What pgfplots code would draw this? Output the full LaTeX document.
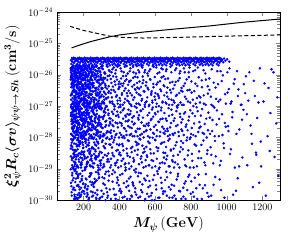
\documentclass[border=0pt]{standalone}
\usepackage{pgfplots}
\pgfplotsset{compat=1.18}
\usepackage{bm}
\begin{document}
\begin{tikzpicture}
\begin{axis}[
  scale only axis, width=223.3pt, height=188pt,
  xmin=50, xmax=1300, ymin=1e-30, ymax=1e-24, ymode=log,
  xtick={200,400,600,800,1000,1200},
  /pgf/number format/1000 sep={},
  tick label style={font=\normalsize},
  label style={font=\Large},
  xlabel={$\bm{M_\psi}\,(\mathbf{GeV})$},
  ylabel={$\bm{\xi_\psi^2 R_c \langle\sigma v\rangle_{\psi\psi\to Sh}}\,(\mathbf{cm^3/s})$},
  every axis plot/.append style={line width=1pt},
  pts/.style={only marks, mark=*, mark size=1.05pt, blue, line width=0.4pt},
]
\addplot[pts] coordinates {
(130,2.9e-26)(132,2.2e-26)(135,3.4e-26)(137,2.6e-26)(140,3.1e-26)(142,2.0e-26)(145,3.5e-26)(147,2.4e-26)(150,3.2e-26)(152,2.7e-26)(155,3.3e-26)(157,2.8e-26)(160,3.0e-26)(162,2.9e-26)(165,2.2e-26)(167,3.4e-26)(170,2.6e-26)(172,3.1e-26)(175,2.0e-26)(177,3.5e-26)(180,2.4e-26)(182,3.2e-26)(185,2.7e-26)(187,3.3e-26)(190,2.8e-26)(192,3.0e-26)
(195,2.5e-26)(197,3.3e-26)(200,2.1e-26)(202,3.0e-26)(205,2.7e-26)(207,3.5e-26)(210,2.3e-26)(212,3.1e-26)(215,2.8e-26)(217,2.0e-26)(220,3.4e-26)(222,2.6e-26)(225,3.2e-26)(227,2.5e-26)(230,3.3e-26)(232,2.1e-26)(235,3.0e-26)(237,2.7e-26)(240,3.5e-26)(242,2.3e-26)(245,3.1e-26)(247,2.8e-26)(250,2.0e-26)(252,3.4e-26)(255,2.6e-26)(257,3.2e-26)
(260,2.9e-26)(262,2.2e-26)(265,3.4e-26)(267,2.6e-26)(270,3.1e-26)(272,2.0e-26)(275,3.5e-26)(277,2.4e-26)(280,3.2e-26)(282,2.7e-26)(285,3.3e-26)(287,2.8e-26)(290,3.0e-26)(292,2.9e-26)(295,2.2e-26)(297,3.4e-26)(300,2.6e-26)(302,3.1e-26)(305,2.0e-26)(307,3.5e-26)(310,2.4e-26)(312,3.2e-26)(315,2.7e-26)(317,3.3e-26)(320,2.8e-26)(322,3.0e-26)
(325,2.5e-26)(327,3.3e-26)(330,2.1e-26)(332,3.0e-26)(335,2.7e-26)(337,3.5e-26)(340,2.3e-26)(342,3.1e-26)(345,2.8e-26)(347,2.0e-26)(350,3.4e-26)(352,2.6e-26)(355,3.2e-26)(357,2.5e-26)(360,3.3e-26)(362,2.1e-26)(365,3.0e-26)(367,2.7e-26)(370,3.5e-26)(372,2.3e-26)(375,3.1e-26)(377,2.8e-26)(380,2.0e-26)(382,3.4e-26)(385,2.6e-26)(387,3.2e-26)
(390,2.9e-26)(392,2.2e-26)(395,3.4e-26)(397,2.6e-26)(400,3.1e-26)(402,2.0e-26)(405,3.5e-26)(407,2.4e-26)(410,3.2e-26)(412,2.7e-26)(415,3.3e-26)(417,2.8e-26)(420,3.0e-26)(422,2.9e-26)(425,2.2e-26)(427,3.4e-26)(430,2.6e-26)(432,3.1e-26)(435,2.0e-26)(437,3.5e-26)(440,2.4e-26)(442,3.2e-26)(445,2.7e-26)(447,3.3e-26)(450,2.8e-26)(452,3.0e-26)
(455,2.5e-26)(457,3.3e-26)(460,2.1e-26)(462,3.0e-26)(465,2.7e-26)(467,3.5e-26)(470,2.3e-26)(472,3.1e-26)(475,2.8e-26)(477,2.0e-26)(480,3.4e-26)(482,2.6e-26)(485,3.2e-26)(487,2.5e-26)(490,3.3e-26)(492,2.1e-26)(495,3.0e-26)(497,2.7e-26)(500,3.5e-26)(502,2.3e-26)(505,3.1e-26)(507,2.8e-26)(510,2.0e-26)(512,3.4e-26)(515,2.6e-26)(517,3.2e-26)
(520,2.9e-26)(522,2.2e-26)(525,3.4e-26)(527,2.6e-26)(530,3.1e-26)(532,2.0e-26)(535,3.5e-26)(537,2.4e-26)(540,3.2e-26)(542,2.7e-26)(545,3.3e-26)(547,2.8e-26)(550,3.0e-26)(552,2.9e-26)(555,2.2e-26)(557,3.4e-26)(560,2.6e-26)(562,3.1e-26)(565,2.0e-26)(567,3.5e-26)(570,2.4e-26)(572,3.2e-26)(575,2.7e-26)(577,3.3e-26)(580,2.8e-26)(582,3.0e-26)
(585,2.5e-26)(587,3.3e-26)(590,2.1e-26)(592,3.0e-26)(595,2.7e-26)(597,3.5e-26)(600,2.3e-26)(602,3.1e-26)(605,2.8e-26)(607,2.0e-26)(610,3.4e-26)(612,2.6e-26)(615,3.2e-26)(617,2.5e-26)(620,3.3e-26)(622,2.1e-26)(625,3.0e-26)(627,2.7e-26)(630,3.5e-26)(632,2.3e-26)(635,3.1e-26)(637,2.8e-26)(640,2.0e-26)(642,3.4e-26)(645,2.6e-26)(647,3.2e-26)
(650,2.9e-26)(652,2.2e-26)(655,3.4e-26)(657,2.6e-26)(660,3.1e-26)(662,2.0e-26)(665,3.5e-26)(667,2.4e-26)(670,3.2e-26)(672,2.7e-26)(675,3.3e-26)(677,2.8e-26)(680,3.0e-26)(682,2.9e-26)(685,2.2e-26)(687,3.4e-26)(690,2.6e-26)(692,3.1e-26)(695,2.0e-26)(697,3.5e-26)(700,2.4e-26)(702,3.2e-26)(705,2.7e-26)(707,3.3e-26)(710,2.8e-26)(712,3.0e-26)
(715,2.5e-26)(717,3.3e-26)(720,2.1e-26)(722,3.0e-26)(725,2.7e-26)(727,3.5e-26)(730,2.3e-26)(732,3.1e-26)(735,2.8e-26)(737,2.0e-26)(740,3.4e-26)(742,2.6e-26)(745,3.2e-26)(747,2.5e-26)(750,3.3e-26)(752,2.1e-26)(755,3.0e-26)(757,2.7e-26)(760,3.5e-26)(762,2.3e-26)(765,3.1e-26)(767,2.8e-26)(770,2.0e-26)(772,3.4e-26)(775,2.6e-26)(777,3.2e-26)
(780,2.9e-26)(782,2.2e-26)(785,3.4e-26)(787,2.6e-26)(790,3.1e-26)(792,2.0e-26)(795,3.5e-26)(797,2.4e-26)(800,3.2e-26)(802,2.7e-26)(805,3.3e-26)(807,2.8e-26)(810,3.0e-26)(812,2.9e-26)(815,2.2e-26)(817,3.4e-26)(820,2.6e-26)(822,3.1e-26)(825,2.0e-26)(827,3.5e-26)(830,2.4e-26)(832,3.2e-26)(835,2.7e-26)(837,3.3e-26)(840,2.8e-26)(842,3.0e-26)
(845,2.5e-26)(847,3.3e-26)(850,2.1e-26)(852,3.0e-26)(855,2.7e-26)(857,3.5e-26)(860,2.3e-26)(862,3.1e-26)(865,2.8e-26)(867,2.0e-26)(870,3.4e-26)(872,2.6e-26)(875,3.2e-26)(877,2.5e-26)(880,3.3e-26)(882,2.1e-26)(885,3.0e-26)(887,2.7e-26)(890,3.5e-26)(892,2.3e-26)(895,3.1e-26)(897,2.8e-26)(900,2.0e-26)(902,3.4e-26)(905,2.6e-26)(907,3.2e-26)
(910,2.9e-26)(912,2.2e-26)(915,3.4e-26)(917,2.6e-26)(920,3.1e-26)(922,2.0e-26)(925,3.5e-26)(927,2.4e-26)(930,3.2e-26)(932,2.7e-26)(935,3.3e-26)(937,2.8e-26)(940,3.0e-26)(942,2.9e-26)(945,2.2e-26)(947,3.4e-26)(950,2.6e-26)(952,3.1e-26)(955,2.0e-26)(957,3.5e-26)(960,2.4e-26)(962,3.2e-26)(965,2.7e-26)(967,3.3e-26)(970,2.8e-26)(972,3.0e-26)
(976,3.0e-26)(981,2.5e-26)(986,3.3e-26)(993,2.8e-26)(1003,3.1e-26)(1015,2.6e-26)
(130,1.2e-26)(133,1.7e-26)(141,1.9e-26)(146,1.1e-26)(137,1.5e-26)(149,1.3e-26)
(129,8.3e-27)(132,5.1e-27)(135,2.6e-27)(138,9.4e-27)(140,1.4e-27)(143,3.8e-27)(145,6.7e-27)(147,2.1e-27)(131,1.1e-27)(134,7.2e-27)(136,4.4e-27)(139,1.8e-27)(142,3.1e-27)(144,5.9e-27)(148,8.8e-27)(150,1.3e-27)(133,2.4e-27)(146,4.9e-27)
(130,6.1e-28)(132,3.3e-28)(135,1.2e-28)(137,8.5e-28)(139,2.2e-28)(141,5.4e-28)(143,1.6e-28)(145,7.7e-28)(147,3.9e-28)(149,1.4e-28)(131,9.6e-28)(134,2.7e-28)(136,4.6e-28)(138,1.9e-28)(140,6.9e-28)(142,1.1e-28)(144,3.0e-28)(148,5.2e-28)
(129,2.5e-29)(133,6.8e-29)(136,1.3e-29)(140,4.1e-29)(143,8.9e-29)(146,1.7e-29)(149,3.4e-29)(131,5.6e-29)(138,1.1e-29)(145,2.9e-29)
(130,3.6e-30)(134,1.4e-30)(137,7.4e-30)(141,2.2e-30)(144,5.1e-30)(147,1.1e-30)(150,8.6e-30)(132,2.8e-30)
(152,1.3e-26)(157,1.8e-26)(163,1.1e-26)(168,1.6e-26)(174,1.9e-26)(179,1.2e-26)(185,1.5e-26)(190,1.7e-26)(196,1.1e-26)(154,1.4e-26)(160,2.0e-26)(171,1.2e-26)(177,1.6e-26)(183,1.9e-26)(188,1.3e-26)(198,1.5e-26)
(151,3.2e-27)(158,1.1e-27)(165,6.5e-27)(172,2.0e-27)(179,8.7e-27)(186,1.5e-27)(193,4.4e-27)(153,2.7e-27)(160,9.6e-27)(167,5.3e-27)(174,1.3e-27)(181,7.4e-27)(188,2.3e-27)(195,4.9e-27)(155,1.7e-27)(162,9.0e-27)(169,3.6e-27)(176,1.2e-27)(183,5.8e-27)(190,2.9e-27)(197,8.1e-27)(157,1.9e-27)(164,3.9e-27)(171,6.0e-27)(178,1.4e-27)(185,2.5e-27)(192,7.0e-27)(199,4.1e-27)(152,1.0e-27)(159,3.0e-27)(166,5.5e-27)(173,2.1e-27)(180,9.3e-27)(187,1.6e-27)(194,3.4e-27)(154,6.8e-27)(161,1.2e-27)(168,4.7e-27)(175,2.6e-27)(182,8.4e-27)(189,1.8e-27)(196,4.2e-27)(156,7.8e-27)(163,2.4e-27)(170,1.1e-27)(177,5.0e-27)(184,3.7e-27)(191,9.9e-27)(198,1.5e-27)(150,6.2e-27)
(151,5.3e-28)(162,9.6e-28)(173,2.7e-28)(184,4.4e-28)(195,1.5e-28)(156,8.7e-28)(167,2.0e-28)(178,6.5e-28)(189,1.1e-28)(153,3.2e-28)(164,2.9e-28)(175,5.8e-28)(186,1.2e-28)(197,3.6e-28)(158,9.0e-28)(169,1.7e-28)(180,4.9e-28)(191,2.3e-28)(152,7.4e-28)(163,1.3e-28)(174,3.0e-28)(185,1.0e-28)(196,4.1e-28)(157,7.0e-28)(168,2.5e-28)(179,1.4e-28)(190,6.0e-28)(154,3.9e-28)(165,1.9e-28)(176,8.1e-28)(187,8.4e-28)(198,2.6e-28)(159,4.7e-28)(170,1.2e-28)(181,6.8e-28)(192,3.4e-28)(155,1.6e-28)(166,9.3e-28)(177,2.1e-28)(188,5.5e-28)(199,6.2e-28)(160,1.5e-28)(171,9.9e-28)(182,3.7e-28)(193,5.0e-28)
(152,4.0e-29)(165,1.2e-29)(178,7.5e-29)(191,2.2e-29)(154,1.6e-29)(167,5.6e-29)(180,3.1e-29)(193,9.1e-29)(156,1.0e-29)(169,2.6e-29)(182,6.3e-29)(195,1.9e-29)(158,3.8e-29)(171,8.2e-29)(184,1.4e-29)(197,4.6e-29)(160,2.4e-29)(173,7.0e-29)(186,1.1e-29)(199,3.3e-29)(162,5.2e-29)(175,1.7e-29)(188,9.5e-29)(151,2.8e-29)(164,1.3e-29)(177,6.0e-29)(190,3.6e-29)(157,2.0e-29)
(153,2.1e-30)(168,5.5e-30)(183,1.3e-30)(198,3.4e-30)(161,8.0e-30)(176,1.7e-30)(191,4.3e-30)(156,1.1e-30)(171,6.6e-30)(186,2.5e-30)(151,9.2e-30)(166,1.5e-30)(181,3.9e-30)(196,2.0e-30)(159,7.1e-30)(174,1.2e-30)(189,4.8e-30)(163,2.9e-30)(178,1.4e-30)(193,5.9e-30)(170,3.1e-30)
(203,1.4e-26)(208,1.9e-26)(214,1.1e-26)(219,1.6e-26)(225,1.3e-26)(231,1.8e-26)(236,1.2e-26)(241,1.5e-26)(247,1.9e-26)(211,1.7e-26)(228,1.0e-26)(244,1.3e-26)
(201,2.4e-27)(208,7.7e-27)(215,1.3e-27)(222,4.5e-27)(229,1.0e-27)(236,3.3e-27)(243,8.9e-27)(203,1.8e-27)(210,5.6e-27)(217,2.8e-27)(224,1.2e-27)(231,6.1e-27)(238,3.7e-27)(245,1.6e-27)(205,9.4e-27)(212,2.2e-27)(219,4.9e-27)(226,1.1e-27)(233,7.0e-27)(240,3.0e-27)(247,5.3e-27)(207,1.5e-27)(214,2.6e-27)(221,8.2e-27)(228,1.9e-27)(235,4.1e-27)(242,1.4e-27)(249,6.6e-27)(202,2.0e-27)(209,3.5e-27)(216,9.8e-27)(223,1.3e-27)(230,5.0e-27)(237,2.3e-27)(244,7.3e-27)(204,1.7e-27)(211,4.3e-27)(218,1.1e-27)
(201,1.6e-28)(212,4.8e-28)(223,2.3e-28)(234,8.6e-28)(245,1.1e-28)(206,3.4e-28)(217,6.3e-28)(228,1.9e-28)(239,2.8e-28)(204,5.1e-28)(215,1.3e-28)(226,9.7e-28)(237,3.9e-28)(248,2.1e-28)(209,1.5e-28)(220,7.2e-28)(231,4.4e-28)(242,1.2e-28)(203,2.5e-28)(214,6.0e-28)(225,3.1e-28)(236,1.8e-28)(247,8.3e-28)(208,1.4e-28)(219,5.4e-28)(230,2.0e-28)(241,3.6e-28)(202,1.0e-28)(213,7.6e-28)(224,2.7e-28)(235,4.6e-28)(246,1.7e-28)(207,9.2e-28)(250,3.3e-28)
(204,3.5e-29)(217,1.2e-29)(230,6.8e-29)(243,2.1e-29)(206,9.0e-29)(219,1.5e-29)(232,4.3e-29)(245,2.7e-29)(208,1.1e-29)(221,5.8e-29)(234,3.0e-29)(247,1.8e-29)(210,7.5e-29)(223,2.4e-29)(236,1.3e-29)(249,4.9e-29)(212,8.4e-29)(225,1.6e-29)(238,3.7e-29)(215,2.2e-29)
(202,1.9e-30)(216,4.6e-30)(230,1.2e-30)(244,7.3e-30)(209,2.8e-30)(223,1.5e-30)(237,3.9e-30)(205,9.1e-30)(219,2.2e-30)(233,5.6e-30)(247,1.3e-30)(212,3.2e-30)(226,1.0e-30)(240,6.4e-30)(207,2.5e-30)(221,1.7e-30)
(253,1.2e-26)(259,1.7e-26)(266,1.4e-26)(272,1.9e-26)(279,1.1e-26)(285,1.6e-26)(292,1.3e-26)(298,1.8e-26)
(251,4.0e-27)(258,1.3e-27)(265,7.1e-27)(272,2.2e-27)(279,1.0e-27)(286,5.4e-27)(293,2.9e-27)(253,9.3e-27)(260,1.6e-27)(267,3.6e-27)(274,6.2e-27)(281,1.2e-27)(288,2.5e-27)(295,8.0e-27)(255,4.5e-27)(262,1.8e-27)(269,3.2e-27)(276,1.1e-27)(283,6.9e-27)(290,2.0e-27)(297,5.0e-27)(257,1.4e-27)(264,3.8e-27)(271,9.6e-27)(278,2.7e-27)(285,1.5e-27)(292,4.7e-27)(299,7.5e-27)
(251,2.6e-28)(262,8.5e-28)(273,1.4e-28)(284,4.2e-28)(295,1.1e-28)(256,6.0e-28)(267,3.0e-28)(278,1.7e-28)(289,9.9e-28)(254,2.1e-28)(265,5.1e-28)(276,1.3e-28)(287,3.5e-28)(298,7.8e-28)(259,1.9e-28)(270,4.6e-28)(281,2.4e-28)(292,1.0e-28)(253,6.5e-28)(264,3.2e-28)(275,1.6e-28)(286,8.9e-28)(297,2.2e-28)(258,5.5e-28)(269,1.2e-28)(280,3.9e-28)
(252,1.5e-29)(265,5.9e-29)(278,2.4e-29)(291,9.4e-29)(254,1.1e-29)(267,3.6e-29)(280,7.2e-29)(293,1.8e-29)(256,4.4e-29)(269,2.0e-29)(282,6.4e-29)(295,1.3e-29)(258,3.0e-29)(271,8.7e-29)(284,2.6e-29)
(255,3.3e-30)(270,1.2e-30)(285,6.7e-30)(300,2.0e-30)(262,4.8e-30)(277,1.5e-30)(292,9.5e-30)(257,2.7e-30)(272,1.1e-30)(287,5.4e-30)(251,1.8e-30)(266,3.9e-30)(281,7.6e-30)
(308,1.5e-26)(321,1.1e-26)(334,1.8e-26)(346,1.3e-26)
(302,2.3e-27)(309,6.8e-27)(315,1.2e-27)(322,4.0e-27)(328,1.7e-27)(335,9.1e-27)(341,3.0e-27)(347,1.4e-27)(305,5.5e-27)(312,2.0e-27)(318,7.6e-27)(325,1.0e-27)(331,3.6e-27)(338,2.7e-27)
(303,4.5e-28)(311,1.3e-28)(319,8.2e-28)(326,2.5e-28)(333,1.6e-28)(340,5.8e-28)(348,3.1e-28)(306,1.1e-28)(314,7.0e-28)(321,2.2e-28)(329,9.6e-28)(336,1.5e-28)(344,4.1e-28)(349,2.8e-28)
(301,3.3e-29)(313,1.4e-29)(324,6.3e-29)(337,2.0e-29)(345,8.8e-29)(307,1.1e-29)(318,4.7e-29)(330,2.6e-29)(342,1.7e-29)(350,5.9e-29)
(304,1.3e-30)(316,5.0e-30)(327,2.4e-30)(339,8.3e-30)(310,3.4e-30)(323,1.0e-30)(343,6.1e-30)(332,1.8e-30)
(356,1.2e-26)(369,1.7e-26)(381,1.4e-26)(394,1.9e-26)
(352,7.3e-27)(358,1.9e-27)(364,4.2e-27)(371,1.1e-27)(377,2.8e-27)(383,8.6e-27)(390,1.5e-27)(396,5.0e-27)(355,3.3e-27)(362,1.2e-27)(374,6.1e-27)(386,2.2e-27)(399,3.9e-27)
(351,1.4e-28)(359,6.6e-28)(367,2.3e-28)(375,1.0e-28)(382,4.9e-28)(389,2.8e-28)(397,9.2e-28)(354,1.7e-28)(363,3.5e-28)(372,7.9e-28)(380,1.2e-28)(393,5.3e-28)
(353,2.1e-29)(366,7.0e-29)(378,1.3e-29)(391,4.0e-29)(357,9.5e-29)(370,2.5e-29)(384,1.6e-29)(398,5.6e-29)(361,3.2e-29)
(360,6.8e-30)(373,1.5e-30)(387,3.6e-30)(400,2.0e-30)(365,9.0e-30)(379,1.1e-30)(392,4.4e-30)
(407,1.6e-26)(425,1.2e-26)(441,1.9e-26)
(402,1.8e-27)(409,5.2e-27)(415,2.6e-27)(421,9.0e-27)(428,1.3e-27)(434,3.7e-27)(440,7.1e-27)(446,2.1e-27)(405,1.1e-27)(418,4.4e-27)(431,6.3e-27)(444,1.5e-27)
(403,3.0e-28)(411,1.2e-28)(419,7.4e-28)(426,2.0e-28)(433,5.0e-28)(439,1.6e-28)(447,3.3e-28)(406,9.4e-28)(414,2.4e-28)(424,1.1e-28)(437,4.6e-28)
(401,6.0e-29)(413,1.8e-29)(423,3.9e-29)(435,1.1e-29)(448,8.1e-29)(408,2.7e-29)(420,5.3e-29)(430,1.4e-29)(443,3.1e-29)
(404,2.3e-30)(417,6.9e-30)(429,1.3e-30)(442,4.0e-30)(410,1.7e-30)(436,9.3e-30)(450,2.9e-30)
(458,1.3e-26)(476,1.8e-26)(493,1.1e-26)
(452,3.1e-27)(457,1.2e-27)(464,6.5e-27)(470,2.2e-27)(477,1.6e-27)(483,4.8e-27)(489,8.7e-27)(496,2.7e-27)(455,5.9e-27)(468,1.0e-27)(487,3.5e-27)
(451,7.7e-28)(459,2.1e-28)(466,1.3e-28)(473,4.3e-28)(480,2.6e-28)(486,9.8e-28)(494,1.5e-28)(461,5.6e-28)(471,3.2e-28)(484,1.1e-28)(499,6.4e-28)
(453,1.5e-29)(465,4.5e-29)(478,2.2e-29)(491,7.3e-29)(456,1.0e-29)(469,3.4e-29)(482,1.9e-29)(497,5.7e-29)
(454,4.9e-30)(467,1.4e-30)(479,2.9e-30)(492,7.8e-30)(460,1.1e-30)(474,3.7e-30)(488,1.8e-30)
(506,1.4e-26)(523,1.9e-26)(541,1.2e-26)
(502,8.3e-27)(508,2.4e-27)(515,1.1e-27)(521,4.1e-27)(527,1.7e-27)(534,6.7e-27)(540,2.9e-27)(546,1.3e-27)(511,3.6e-27)(530,5.4e-27)
(503,1.9e-28)(510,5.1e-28)(517,1.2e-28)(524,3.0e-28)(531,8.0e-28)(538,1.5e-28)(545,2.3e-28)(505,4.2e-28)(520,6.9e-28)(536,1.0e-28)
(501,2.8e-29)(513,9.1e-29)(526,1.6e-29)(539,4.4e-29)(548,1.2e-29)(507,6.2e-29)(519,2.1e-29)(533,3.3e-29)
(504,5.8e-30)(516,1.3e-30)(529,3.2e-30)(542,1.0e-30)(509,7.5e-30)(522,2.1e-30)(547,4.3e-30)
(557,1.1e-26)(573,1.5e-26)(592,1.8e-26)
(552,1.4e-27)(558,3.8e-27)(565,1.0e-27)(571,7.2e-27)(578,2.3e-27)(584,1.5e-27)(590,5.1e-27)(597,2.0e-27)(561,9.3e-27)(581,3.0e-27)
(553,2.7e-28)(560,1.1e-28)(567,6.1e-28)(574,1.8e-28)(580,3.9e-28)(587,9.0e-28)(594,1.3e-28)(563,2.4e-28)(589,4.6e-28)
(551,5.0e-29)(564,1.3e-29)(576,3.1e-29)(589,1.8e-29)(599,8.5e-29)(556,2.4e-29)(569,6.6e-29)(583,1.1e-29)
(555,1.6e-30)(568,4.1e-30)(582,1.0e-30)(595,6.3e-30)(562,2.6e-30)(577,1.4e-30)
(607,1.7e-26)(624,1.2e-26)(643,1.5e-26)
(602,2.6e-27)(609,1.2e-27)(615,5.7e-27)(622,1.8e-27)(629,3.4e-27)(636,8.2e-27)(642,1.4e-27)(648,4.6e-27)(619,2.1e-27)
(603,5.5e-28)(611,1.7e-28)(618,3.2e-28)(626,1.1e-28)(633,7.3e-28)(640,2.2e-28)(647,1.4e-28)(606,9.5e-28)(630,3.8e-28)
(601,1.2e-29)(614,3.7e-29)(627,1.5e-29)(639,6.8e-29)(650,2.3e-29)(608,4.9e-29)(621,1.0e-29)
(605,3.0e-30)(617,1.2e-30)(632,5.2e-30)(645,1.9e-30)(612,8.4e-30)(637,2.4e-30)
(661,1.3e-26)(686,1.8e-26)
(652,4.3e-27)(659,1.3e-27)(665,2.7e-27)(672,7.6e-27)(678,1.1e-27)(684,3.3e-27)(691,1.6e-27)(697,5.9e-27)(668,2.0e-27)
(653,1.3e-28)(660,4.0e-28)(668,1.9e-28)(675,8.6e-28)(682,1.2e-28)(689,2.9e-28)(696,5.3e-28)(671,1.6e-28)
(651,7.1e-29)(663,2.0e-29)(676,1.2e-29)(688,4.1e-29)(699,1.7e-29)(657,3.2e-29)(681,9.0e-29)
(655,1.9e-30)(667,5.4e-30)(680,1.2e-30)(693,3.1e-30)(662,8.1e-30)(687,2.2e-30)
(712,1.4e-26)(737,1.1e-26)
(703,1.5e-27)(709,4.7e-27)(716,2.1e-27)(722,1.0e-27)(729,6.5e-27)(735,2.6e-27)(742,1.3e-27)(748,3.8e-27)
(704,3.4e-28)(711,1.4e-28)(719,6.9e-28)(726,2.5e-28)(733,1.1e-28)(741,4.5e-28)(747,1.8e-28)
(702,2.6e-29)(714,5.6e-29)(727,1.4e-29)(739,3.5e-29)(706,1.1e-29)(745,7.7e-29)
(708,1.4e-30)(721,4.6e-30)(734,2.0e-30)(747,1.1e-30)(728,7.0e-30)
(761,1.6e-26)(788,1.2e-26)
(753,2.9e-27)(760,1.1e-27)(767,5.3e-27)(774,1.7e-27)(781,3.2e-27)(789,8.4e-27)(796,1.3e-27)
(752,1.6e-28)(762,5.8e-28)(771,2.2e-28)(779,1.0e-28)(787,3.5e-28)(797,7.4e-28)
(755,4.2e-29)(768,1.3e-29)(783,2.7e-29)(795,1.1e-29)(776,8.1e-29)
(757,2.5e-30)(770,1.1e-30)(785,5.6e-30)(799,1.6e-30)(764,3.4e-30)
(813,1.3e-26)(839,1.7e-26)
(803,6.1e-27)(811,1.6e-27)(819,3.0e-27)(827,1.2e-27)(836,4.4e-27)(845,2.1e-27)
(805,2.0e-28)(814,1.2e-28)(823,4.8e-28)(832,9.2e-28)(841,1.5e-28)(848,3.1e-28)
(808,1.8e-29)(821,6.0e-29)(834,1.2e-29)(846,3.6e-29)
(802,4.0e-30)(817,1.3e-30)(830,2.4e-30)(843,6.6e-30)
(871,1.4e-26)
(853,1.9e-27)(862,4.0e-27)(873,1.2e-27)(884,7.0e-27)(895,2.5e-27)
(856,5.0e-28)(866,1.4e-28)(877,2.7e-28)(889,1.0e-28)(898,6.2e-28)
(858,2.2e-29)(870,8.0e-29)(881,1.3e-29)(893,3.9e-29)
(861,1.1e-30)(879,3.0e-30)(892,1.7e-30)
(917,1.5e-26)
(904,3.3e-27)(915,1.1e-27)(928,5.6e-27)(941,1.7e-27)
(907,1.3e-28)(921,3.6e-28)(933,1.1e-28)(946,7.3e-28)
(910,4.9e-29)(925,1.5e-29)(939,2.5e-29)
(913,1.4e-30)(936,5.5e-30)
(966,1.3e-26)(954,1.4e-27)(972,6.3e-27)(991,2.4e-27)(958,3.9e-28)(977,1.2e-28)(995,2.2e-28)(962,1.3e-29)(985,4.6e-29)(969,2.1e-30)(988,1.2e-30)
(1016,1.6e-26)(1005,2.7e-27)(1022,1.2e-27)(1040,5.2e-27)(1010,1.6e-28)(1031,4.4e-28)(1046,1.1e-29)(1019,3.0e-29)(1036,1.5e-30)
(1058,1.3e-26)(1066,3.4e-27)(1083,1.1e-27)(1094,7.6e-28)(1071,1.8e-28)(1088,2.3e-29)(1062,5.0e-30)
(1108,8.9e-27)(1121,1.5e-27)(1134,2.4e-28)(1142,6.3e-29)(1115,1.3e-29)(1147,2.6e-30)
(1158,2.1e-27)(1171,4.2e-28)(1186,1.6e-26)(1193,1.2e-29)(1164,3.3e-29)
(1212,5.3e-27)(1229,1.1e-28)(1241,3.7e-29)(1219,1.4e-30)
(1262,1.2e-26)(1277,2.8e-28)(1289,6.0e-30)
};
\addplot[pts] coordinates {
(128,1.6e-26)(131,9.1e-27)(135,1.4e-26)(139,6.3e-27)(143,1.8e-26)(147,3.4e-27)(150,1.0e-26)(129,2.2e-27)(133,7.9e-27)(137,1.2e-27)(141,4.6e-27)(145,2.9e-27)(149,1.6e-27)(132,5.3e-28)(136,8.1e-28)(140,2.9e-28)(144,1.5e-28)(148,4.3e-28)(130,1.3e-28)(134,6.2e-28)(138,3.6e-28)(142,9.1e-28)(146,2.0e-28)(150,7.1e-28)(129,4.4e-29)(135,1.9e-29)(139,7.9e-29)(144,3.1e-29)(148,1.2e-29)(131,8.8e-29)(137,5.0e-29)(142,2.3e-29)(147,6.4e-29)(133,1.8e-30)(139,4.3e-30)(145,2.5e-30)(149,1.5e-30)(136,6.2e-30)(128,9.7e-30)(143,1.0e-29)
(153,1.6e-26)(159,1.2e-26)(164,1.9e-26)(170,1.4e-26)(175,1.1e-26)(181,1.7e-26)(186,1.3e-26)(192,1.8e-26)(197,1.0e-26)(167,1.5e-26)(178,2.0e-26)(194,1.4e-26)
(151,5.9e-27)(154,1.3e-27)(157,8.5e-27)(160,2.4e-27)(163,1.1e-27)(166,4.1e-27)(169,6.9e-27)(172,1.8e-27)(175,3.1e-27)(178,9.7e-27)(181,2.2e-27)(184,1.4e-27)(187,5.0e-27)(190,2.7e-27)(193,7.5e-27)(196,1.2e-27)(199,3.8e-27)(152,1.6e-27)(155,6.4e-27)(158,2.9e-27)(161,1.0e-27)(164,4.5e-27)(167,8.0e-27)(170,2.0e-27)(173,1.3e-27)(176,3.3e-27)(179,5.6e-27)(182,1.7e-27)(185,9.1e-27)(188,2.5e-27)(191,4.3e-27)(194,1.1e-27)(197,6.7e-27)(200,3.6e-27)
(150,2.3e-28)(153,7.1e-28)(156,1.2e-28)(159,4.8e-28)(162,1.7e-28)(165,3.2e-28)(168,9.4e-28)(171,1.0e-28)(174,5.7e-28)(177,2.6e-28)(180,1.4e-28)(183,8.3e-28)(186,3.9e-28)(189,1.9e-28)(192,6.1e-28)(195,1.1e-28)(198,2.8e-28)(151,4.4e-28)(155,1.5e-28)(159,7.7e-28)(163,2.1e-28)(167,3.5e-28)(171,1.2e-28)(175,6.6e-28)(179,9.8e-28)(183,1.8e-28)(187,4.0e-28)(191,2.4e-28)(195,5.2e-28)(199,1.3e-28)(157,3.0e-28)(161,8.9e-28)
(152,1.4e-29)(158,3.7e-29)(164,8.2e-29)(170,1.1e-29)(176,5.3e-29)(182,2.3e-29)(188,1.6e-29)(194,6.9e-29)(200,2.9e-29)(155,9.9e-29)(161,1.2e-29)(167,4.2e-29)(173,2.0e-29)(179,7.3e-29)(185,1.3e-29)(191,3.4e-29)(197,5.8e-29)(150,2.5e-29)
(154,3.8e-30)(162,1.2e-30)(170,6.1e-30)(178,2.2e-30)(186,1.5e-30)(194,8.6e-30)(158,4.9e-30)(166,1.1e-30)(174,2.7e-30)(182,7.0e-30)(190,1.8e-30)(198,3.3e-30)(151,1.3e-30)(169,5.2e-30)
(204,1.8e-26)(210,1.2e-26)(216,1.5e-26)(223,1.9e-26)(229,1.1e-26)(234,1.6e-26)(240,1.3e-26)(246,1.7e-26)(249,1.0e-26)
(201,3.4e-27)(205,1.2e-27)(209,6.9e-27)(213,2.1e-27)(217,1.5e-27)(221,8.8e-27)(225,4.0e-27)(229,1.1e-27)(233,2.5e-27)(237,5.6e-27)(241,1.7e-27)(245,9.2e-27)(249,3.0e-27)(203,1.3e-27)(207,7.4e-27)(211,2.7e-27)(215,4.6e-27)(219,1.0e-27)(223,6.2e-27)(227,1.9e-27)(231,3.6e-27)(235,1.4e-27)(239,8.1e-27)(243,2.3e-27)(247,5.1e-27)(202,1.6e-27)(226,3.9e-27)(238,1.2e-27)
(202,1.1e-28)(206,4.0e-28)(210,2.2e-28)(214,7.8e-28)(218,1.5e-28)(222,3.1e-28)(226,5.9e-28)(230,1.3e-28)(234,2.6e-28)(238,9.5e-28)(242,1.8e-28)(246,4.7e-28)(250,1.0e-28)(204,6.5e-28)(208,2.9e-28)(212,1.2e-28)(216,3.7e-28)(220,8.7e-28)(224,1.6e-28)(228,5.2e-28)(232,2.0e-28)(236,1.1e-28)(240,4.4e-28)(244,7.0e-28)(248,2.4e-28)(213,3.3e-28)
(203,2.7e-29)(209,1.0e-29)(215,5.1e-29)(221,1.6e-29)(227,8.3e-29)(233,3.2e-29)(239,1.2e-29)(245,4.5e-29)(206,2.1e-29)(212,6.7e-29)(218,1.4e-29)(224,3.8e-29)(230,9.6e-29)(236,1.9e-29)(242,2.5e-29)
(205,1.6e-30)(213,4.9e-30)(221,2.3e-30)(229,1.1e-30)(237,7.2e-30)(245,3.1e-30)(209,9.4e-30)(217,1.3e-30)(225,2.8e-30)(233,5.7e-30)(241,1.9e-30)(249,3.7e-30)
(254,1.5e-26)(263,1.1e-26)(271,1.8e-26)(280,1.3e-26)(289,1.6e-26)(296,1.0e-26)
(251,1.9e-27)(256,5.4e-27)(261,1.1e-27)(266,3.1e-27)(271,8.3e-27)(276,2.2e-27)(281,1.4e-27)(286,6.6e-27)(291,2.8e-27)(296,1.0e-27)(253,4.3e-27)(258,1.6e-27)(263,9.9e-27)(268,2.5e-27)(273,1.2e-27)(278,5.8e-27)(283,3.4e-27)(288,1.8e-27)(293,7.1e-27)(298,2.0e-27)(300,3.8e-27)
(252,6.7e-28)(257,1.3e-28)(262,3.6e-28)(267,1.8e-28)(272,9.0e-28)(277,2.4e-28)(282,1.1e-28)(287,4.9e-28)(292,2.9e-28)(297,1.5e-28)(254,7.6e-28)(259,1.0e-28)(264,4.1e-28)(269,2.1e-28)(274,5.6e-28)(279,1.4e-28)(284,3.0e-28)(289,8.4e-28)(294,1.2e-28)(299,2.6e-28)
(251,4.6e-29)(259,1.5e-29)(267,2.6e-29)(275,7.4e-29)(283,1.1e-29)(291,3.5e-29)(299,1.9e-29)(255,9.0e-29)(263,2.2e-29)(271,5.5e-29)(279,1.3e-29)(287,3.0e-29)
(253,1.4e-30)(261,3.6e-30)(269,7.9e-30)(277,2.1e-30)(285,5.0e-30)(293,1.2e-30)(257,2.7e-30)(265,1.7e-30)(273,4.3e-30)(281,9.0e-30)(289,1.1e-30)
(304,1.6e-26)(317,1.2e-26)(329,1.9e-26)(342,1.4e-26)
(301,1.2e-27)(306,3.7e-27)(311,8.0e-27)(316,1.6e-27)(320,5.1e-27)(324,2.4e-27)(329,1.0e-27)(333,6.8e-27)(337,1.9e-27)(341,4.3e-27)(345,9.5e-27)(348,1.3e-27)(314,2.9e-27)
(302,8.5e-28)(307,2.0e-28)(312,4.6e-28)(317,1.2e-28)(322,6.2e-28)(327,3.4e-28)(332,1.0e-28)(337,7.6e-28)(342,2.4e-28)(347,1.5e-28)(309,3.9e-28)(324,9.1e-28)(339,5.2e-28)
(303,7.1e-29)(309,2.3e-29)(315,1.2e-29)(320,4.5e-29)(326,9.3e-29)(332,1.7e-29)(338,3.1e-29)(344,6.0e-29)(349,1.1e-29)(312,5.3e-29)(335,2.0e-29)
(305,5.4e-30)(312,1.6e-30)(319,3.1e-30)(326,8.1e-30)(333,1.2e-30)(340,4.2e-30)(347,2.2e-30)(321,6.8e-30)(336,1.4e-30)
(361,1.5e-26)(377,1.1e-26)(389,1.8e-26)
(351,2.6e-27)(356,5.5e-27)(360,1.4e-27)(365,8.9e-27)(369,3.2e-27)(373,1.0e-27)(378,4.8e-27)(382,2.0e-27)(387,7.0e-27)(391,1.2e-27)(395,3.5e-27)(399,6.0e-27)
(352,4.0e-28)(357,1.1e-28)(361,2.5e-28)(366,5.6e-28)(370,1.6e-28)(374,9.8e-28)(379,3.0e-28)(384,1.3e-28)(388,6.7e-28)(392,2.1e-28)(396,4.5e-28)(398,1.0e-28)
(354,1.3e-29)(359,4.8e-29)(364,2.7e-29)(371,8.3e-29)(376,1.5e-29)(383,3.8e-29)(386,6.1e-29)(390,1.9e-29)(394,1.1e-29)(399,2.9e-29)
(353,1.1e-30)(362,3.9e-30)(368,2.3e-30)(375,7.7e-30)(381,1.5e-30)(388,5.3e-30)(393,1.0e-30)(397,3.0e-30)
(412,1.3e-26)(430,1.8e-26)(447,1.1e-26)
(401,4.1e-27)(405,1.5e-27)(410,7.6e-27)(414,2.3e-27)(419,1.1e-27)(423,5.3e-27)(427,3.1e-27)(432,1.7e-27)(437,9.3e-27)(442,2.6e-27)(449,4.8e-27)
(403,1.4e-28)(407,6.3e-28)(412,2.8e-28)(416,1.0e-28)(421,4.0e-28)(426,8.4e-28)(431,1.9e-28)(436,3.3e-28)(440,1.2e-28)(445,5.6e-28)(449,2.3e-28)
(402,3.3e-29)(409,1.2e-29)(416,6.2e-29)(422,2.1e-29)(429,9.6e-29)(434,1.5e-29)(441,4.4e-29)(446,2.6e-29)
(404,6.4e-30)(411,1.9e-30)(418,1.2e-30)(425,3.5e-30)(433,8.8e-30)(439,2.6e-30)(444,1.1e-30)
(462,1.6e-26)(479,1.2e-26)(497,1.9e-26)
(451,1.4e-27)(456,6.3e-27)(461,2.6e-27)(466,1.1e-27)(472,4.2e-27)(478,8.0e-27)(484,1.9e-27)(490,3.3e-27)(495,1.2e-27)(499,5.5e-27)
(452,3.6e-28)(458,1.2e-28)(463,7.0e-28)(469,2.0e-28)(474,1.1e-28)(481,4.8e-28)(486,2.8e-28)(491,1.6e-28)(496,8.9e-28)(454,5.3e-28)
(453,7.8e-29)(459,2.4e-29)(467,1.2e-29)(473,5.0e-29)(480,1.7e-29)(487,3.8e-29)(493,1.0e-29)(498,6.8e-29)
(455,2.0e-30)(463,5.6e-30)(470,1.3e-30)(476,3.3e-30)(483,9.0e-30)(489,2.4e-30)(495,1.5e-30)
(511,1.2e-26)(528,1.7e-26)(544,1.4e-26)
(501,3.9e-27)(507,1.2e-27)(513,6.1e-27)(518,2.2e-27)(524,1.5e-27)(531,8.8e-27)(536,3.0e-27)(542,1.1e-27)(548,4.5e-27)
(502,1.1e-28)(508,3.7e-28)(514,1.9e-28)(519,7.2e-28)(526,1.3e-28)(532,4.3e-28)(537,2.4e-28)(543,9.5e-28)(549,1.6e-28)
(504,4.1e-29)(510,1.4e-29)(517,8.6e-29)(523,2.5e-29)(529,5.5e-29)(535,1.1e-29)(541,3.5e-29)(547,1.9e-29)
(506,1.2e-30)(514,3.8e-30)(521,7.2e-30)(528,1.8e-30)(539,4.9e-30)(545,1.1e-30)
(566,1.3e-26)(587,1.9e-26)
(551,5.8e-27)(556,1.9e-27)(562,3.4e-27)(568,1.1e-27)(574,6.9e-27)(579,2.6e-27)(585,1.3e-27)(591,4.0e-27)(598,8.5e-27)
(552,1.7e-28)(558,5.1e-28)(564,2.9e-28)(570,1.0e-28)(576,3.6e-28)(583,7.8e-28)(589,1.4e-28)(594,2.2e-28)(599,6.0e-28)
(554,2.7e-29)(561,7.4e-29)(567,1.3e-29)(573,4.2e-29)(580,1.9e-29)(586,9.8e-29)(593,3.1e-29)
(557,6.0e-30)(565,1.3e-30)(572,2.9e-30)(581,1.7e-30)(588,4.5e-30)(596,1.0e-30)
(613,1.1e-26)(635,1.6e-26)
(601,1.6e-27)(608,4.9e-27)(614,2.4e-27)(621,1.0e-27)(627,6.2e-27)(634,3.0e-27)(641,1.3e-27)(647,9.0e-27)
(603,2.5e-28)(609,1.1e-28)(616,6.7e-28)(622,3.1e-28)(629,1.5e-28)(635,8.9e-28)(642,4.0e-28)(648,1.9e-28)
(602,8.2e-29)(610,2.1e-29)(618,4.6e-29)(625,1.1e-29)(633,6.3e-29)(640,1.6e-29)(646,3.3e-29)
(606,2.2e-30)(615,6.9e-30)(624,1.2e-30)(636,3.6e-30)(644,1.6e-30)
(664,1.5e-26)(691,1.2e-26)
(651,2.2e-27)(657,7.3e-27)(663,1.2e-27)(669,3.9e-27)(676,1.7e-27)(683,5.6e-27)(689,2.7e-27)(696,1.1e-27)
(652,6.0e-28)(658,1.6e-28)(665,3.4e-28)(671,1.1e-28)(678,4.9e-28)(684,2.1e-28)(691,7.7e-28)(698,1.3e-28)
(654,1.5e-29)(661,5.0e-29)(668,2.6e-29)(674,8.0e-29)(681,1.2e-29)(688,3.8e-29)(695,1.9e-29)
(656,4.4e-30)(666,1.4e-30)(677,2.6e-30)(686,7.5e-30)(697,1.2e-30)
(718,1.6e-26)(741,1.3e-26)
(701,3.6e-27)(708,1.3e-27)(715,5.9e-27)(722,2.3e-27)(730,1.1e-27)(737,7.8e-27)(745,3.1e-27)
(702,1.2e-28)(709,4.1e-28)(717,2.3e-28)(724,9.0e-28)(731,1.5e-28)(739,5.7e-28)(746,3.0e-28)
(704,4.4e-29)(712,1.6e-29)(720,7.1e-29)(728,2.8e-29)(736,1.1e-29)(744,4.9e-29)
(706,2.9e-30)(716,1.1e-30)(727,5.8e-30)(740,1.9e-30)
(766,1.2e-26)(792,1.7e-26)
(751,1.1e-27)(759,4.4e-27)(767,2.0e-27)(776,7.1e-27)(784,1.4e-27)(793,3.3e-27)
(753,3.8e-28)(760,1.2e-28)(768,6.4e-28)(775,2.6e-28)(782,1.7e-28)(790,4.6e-28)(798,1.0e-28)
(756,6.7e-29)(765,2.0e-29)(774,1.2e-29)(786,3.9e-29)(794,8.9e-29)
(758,1.3e-30)(771,4.0e-30)(780,2.1e-30)(791,6.5e-30)
(824,1.4e-26)
(804,2.7e-27)(814,1.0e-27)(825,5.2e-27)(834,1.8e-27)(844,8.3e-27)
(801,1.3e-28)(809,5.9e-28)(818,2.8e-28)(827,1.1e-28)(838,6.9e-28)(847,2.0e-28)
(806,3.0e-29)(816,1.1e-29)(829,5.5e-29)(842,2.2e-29)
(811,1.8e-30)(822,5.2e-30)(836,1.1e-30)(849,3.1e-30)
(881,1.1e-26)
(851,1.3e-27)(861,6.6e-27)(872,2.2e-27)(883,1.1e-27)(894,4.3e-27)
(854,2.2e-28)(863,8.0e-28)(874,1.3e-28)(886,4.0e-28)(896,1.7e-28)
(859,5.8e-29)(876,1.6e-29)(891,3.0e-29)
(867,2.4e-30)(884,6.8e-30)(899,1.3e-30)
(903,7.6e-27)(912,2.0e-27)(924,1.0e-27)(938,3.9e-27)(948,1.3e-26)(906,4.3e-28)(919,1.6e-28)(931,9.0e-28)(944,2.6e-28)(914,2.8e-29)(935,7.8e-29)(927,3.1e-30)
(952,5.0e-27)(964,1.6e-27)(979,9.6e-27)(996,1.2e-27)(957,1.1e-28)(974,5.5e-28)(990,2.9e-28)(968,1.8e-29)(983,6.5e-29)(961,4.6e-30)
(1004,1.2e-26)(1012,3.5e-27)(1027,1.4e-27)(1045,7.2e-27)(1063,2.1e-27)(1079,1.1e-27)(1096,5.0e-27)(1008,2.3e-28)(1033,6.5e-28)(1055,1.3e-28)(1086,3.7e-28)(1024,4.2e-29)(1070,1.2e-29)(1052,2.0e-30)
(1104,2.6e-27)(1127,1.2e-26)(1152,6.4e-27)(1178,1.3e-27)(1113,5.5e-28)(1139,1.3e-28)(1166,2.8e-29)(1191,7.4e-29)(1182,3.6e-30)
(1206,1.4e-27)(1234,3.8e-27)(1251,1.5e-26)(1283,1.9e-27)(1245,6.0e-28)(1268,2.4e-29)
};
\addplot[pts] coordinates {
(129,1.4e-26)(134,1.1e-26)(138,1.8e-26)(142,1.3e-26)(146,1.6e-26)(151,1.2e-26)(155,1.9e-26)(159,1.1e-26)(163,1.5e-26)(167,1.7e-26)
(128,7.0e-27)(131,4.0e-27)(134,2.3e-27)(137,8.6e-27)(140,5.2e-27)(143,1.2e-27)(146,3.3e-27)(149,6.0e-27)(152,1.9e-27)(155,9.5e-27)(158,4.8e-27)(161,2.7e-27)(164,1.5e-27)(167,7.7e-27)(170,3.6e-27)(130,1.6e-27)(133,9.9e-27)(136,5.6e-27)(139,3.0e-27)(142,7.4e-27)(145,1.1e-27)(148,4.3e-27)(151,8.2e-27)(154,2.1e-27)(157,6.5e-27)(160,1.3e-27)(163,3.9e-27)(166,9.0e-27)(169,2.4e-27)
(129,4.9e-28)(132,8.8e-28)(135,2.0e-28)(138,6.4e-28)(141,3.2e-28)(144,1.1e-28)(147,7.1e-28)(150,2.5e-28)(153,9.9e-28)(156,4.1e-28)(159,1.6e-28)(162,5.8e-28)(165,2.9e-28)(168,8.0e-28)(131,1.3e-28)(134,3.8e-28)(137,9.2e-28)(140,1.8e-28)(143,5.0e-28)(146,2.3e-28)(149,1.0e-28)(152,6.8e-28)(155,3.4e-28)(158,1.2e-28)(161,8.5e-28)(164,2.1e-28)(167,4.5e-28)(170,1.5e-28)
(130,5.5e-29)(136,2.2e-29)(141,8.6e-29)(147,3.9e-29)(153,1.5e-29)(158,6.2e-29)(164,2.8e-29)(169,9.3e-29)
(172,1.3e-26)(178,1.8e-26)(184,1.1e-26)(190,1.5e-26)(196,1.9e-26)(202,1.2e-26)(208,1.6e-26)(214,1.0e-26)(220,1.4e-26)(226,1.8e-26)
(171,5.3e-27)(174,2.0e-27)(177,8.0e-27)(180,3.2e-27)(183,1.4e-27)(186,6.1e-27)(189,2.5e-27)(192,9.6e-27)(195,4.4e-27)(198,1.1e-27)(201,7.2e-27)(204,2.9e-27)(207,5.0e-27)(210,1.7e-27)(213,8.7e-27)(216,3.7e-27)(219,1.3e-27)(222,6.6e-27)(225,2.2e-27)(228,4.7e-27)(173,1.2e-27)(179,4.0e-27)(185,9.1e-27)(191,1.6e-27)(197,3.5e-27)(203,1.0e-27)(209,6.9e-27)(215,2.6e-27)(221,1.5e-27)(227,9.4e-27)
(172,7.4e-28)(176,2.7e-28)(181,5.1e-28)(186,1.4e-28)(190,8.2e-28)(194,3.3e-28)(199,1.2e-28)(203,6.2e-28)(208,2.2e-28)(212,9.7e-28)(217,4.2e-28)(221,1.7e-28)(225,7.3e-28)(229,3.0e-28)(175,4.5e-28)(183,1.1e-28)(192,2.0e-28)(201,3.8e-28)(210,1.3e-28)(219,5.6e-28)
(174,3.1e-29)(182,7.6e-29)(190,1.4e-29)(198,4.7e-29)(206,2.4e-29)(214,8.8e-29)(222,1.7e-29)(228,5.6e-29)(186,2.9e-29)(211,1.1e-29)
(234,1.5e-26)(246,1.1e-26)(258,1.8e-26)(270,1.3e-26)(282,1.6e-26)(294,1.2e-26)(306,1.9e-26)(318,1.1e-26)
(231,3.9e-27)(236,1.3e-27)(241,7.0e-27)(246,2.4e-27)(251,5.3e-27)(256,1.0e-27)(261,8.1e-27)(266,3.0e-27)(271,1.6e-27)(276,6.3e-27)(281,2.2e-27)(286,4.2e-27)(291,1.2e-27)(296,9.2e-27)(301,3.5e-27)(306,1.4e-27)(311,5.8e-27)(316,2.7e-27)(321,7.9e-27)(326,1.8e-27)(233,1.9e-27)(243,4.8e-27)(253,2.9e-27)(263,1.1e-27)(273,3.8e-27)(283,8.9e-27)(293,2.0e-27)(303,6.8e-27)(313,1.3e-27)(323,4.5e-27)
(232,6.0e-28)(238,1.7e-28)(244,3.3e-28)(250,9.3e-28)(256,2.3e-28)(262,5.4e-28)(268,1.2e-28)(274,7.2e-28)(280,2.8e-28)(286,1.5e-28)(292,4.4e-28)(298,8.6e-28)(304,2.0e-28)(310,1.1e-28)(316,5.1e-28)(322,3.2e-28)(328,1.4e-28)(241,4.0e-28)(265,9.8e-28)(289,2.5e-28)(313,6.5e-28)
(235,3.4e-29)(247,1.2e-29)(259,6.9e-29)(271,2.3e-29)(283,4.6e-29)(295,1.5e-29)(307,8.0e-29)(319,2.8e-29)(242,9.4e-29)(266,4.0e-29)(290,1.8e-29)
};
\addplot[black, no marks] coordinates {
(133,7.2e-26)(180,8.9e-26)(235,1.12e-25)(290,1.35e-25)(346,1.62e-25)(401,1.86e-25)(474,2.09e-25)(535,2.3e-25)(720,2.9e-25)(905,3.6e-25)(1090,4.7e-25)(1300,6.0e-25)
};
\addplot[black, no marks, dash pattern=on 4pt off 2.5pt] coordinates {
(124,3.5e-25)(198,2.6e-25)(272,2.1e-25)(346,1.7e-25)(420,1.55e-25)(535,1.48e-25)(720,1.55e-25)(905,1.65e-25)(1090,1.75e-25)(1300,1.86e-25)
};
\end{axis}
\pgfresetboundingbox
\path[use as bounding box] ([xshift=-56.7pt,yshift=-40pt]current axis.south west) rectangle ([xshift=7.7pt,yshift=12pt]current axis.north east);
\end{tikzpicture}
\end{document}
